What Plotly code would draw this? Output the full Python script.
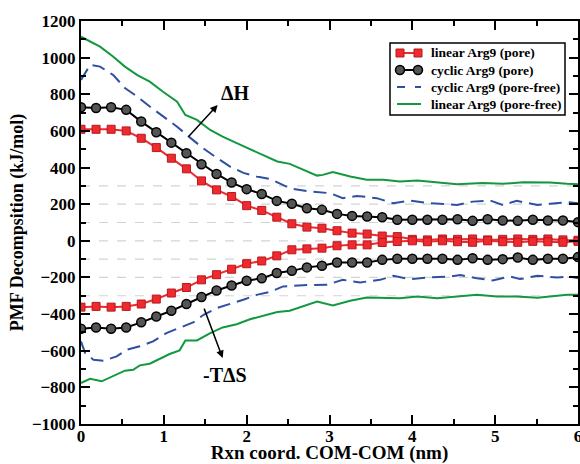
import numpy as np
import plotly.graph_objects as go

# ---- data ----
x_pore = np.linspace(0, 6, 34)

linear_pore_dH = [609, 609, 609, 600, 560, 509, 451, 393, 327, 278, 242, 192, 166, 129, 93, 75, 69, 55,
                  42, 37, 26, 23, 8, 5, 10, 8, 10, 5, 8, 10, 8, 10, 5, 3]
linear_pore_TdS = [-362, -358, -362, -358, -345, -318, -285, -255, -213, -185, -155, -125, -110, -82, -49,
                   -44, -40, -27, -22, -22, -9, -4, 0, -5, 0, -5, -8, 0, -5, -8, -3, -5, -8, -3]
cyclic_pore_dH = [729, 725, 729, 715, 651, 593, 536, 478, 418, 365, 318, 282, 256, 218, 202, 178, 169, 147,
                  136, 133, 129, 115, 115, 115, 115, 118, 109, 118, 111, 109, 115, 111, 111, 102]
cyclic_pore_TdS = [-480, -473, -480, -473, -445, -413, -382, -345, -307, -271, -244, -218, -205, -176, -164,
                   -145, -136, -118, -118, -118, -104, -98, -98, -98, -98, -104, -95, -104, -100, -91, -104,
                   -98, -98, -89]

cyc_free_dH_x = [0, 0.11, 0.23, 0.39, 0.53, 0.68, 0.83, 0.99, 1.16, 1.32, 1.47, 1.64, 1.80, 1.96, 2.12, 2.28,
                 2.52, 2.76, 3.01, 3.16, 3.33, 3.57, 3.77, 3.97, 4.21, 4.54, 4.73, 4.94, 5.09, 5.26, 5.51,
                 5.66, 5.87, 6.0]
cyc_free_dH = [878, 960, 951, 905, 834, 787, 733, 678, 623, 562, 507, 453, 405, 371, 351, 338, 287, 269, 260,
               233, 245, 233, 205, 220, 205, 196, 214, 220, 196, 218, 196, 202, 211, 205]
cyc_free_TdS_x = [0, 0.05, 0.15, 0.27, 0.43, 0.55, 0.71, 0.87, 1.03, 1.19, 1.36, 1.48, 1.64, 1.80, 1.96, 2.12,
                  2.28, 2.44, 2.68, 2.97, 3.16, 3.37, 3.61, 3.77, 3.97, 4.21, 4.46, 4.58, 4.78, 4.97, 5.18,
                  5.30, 5.51, 5.75, 5.90, 6.0]
cyc_free_TdS = [-549, -613, -649, -655, -631, -595, -576, -549, -504, -476, -444, -404, -367, -344, -322, -295,
                -279, -249, -242, -240, -213, -227, -213, -191, -209, -200, -195, -187, -204, -216, -195,
                -209, -191, -200, -195, -204]

lin_free_dH_x = [0, 0.11, 0.23, 0.39, 0.53, 0.68, 0.83, 0.99, 1.16, 1.26, 1.40, 1.56, 1.71, 1.88, 2.04, 2.20,
                 2.37, 2.52, 2.68, 2.85, 2.92, 3.04, 3.25, 3.45, 3.65, 3.85, 4.06, 4.30, 4.54, 4.85, 5.09,
                 5.34, 5.66, 5.87, 6.0]
lin_free_dH = [1114, 1087, 1060, 1005, 951, 905, 869, 814, 760, 687, 660, 605, 569, 533, 500, 469, 433, 420,
               387, 356, 360, 375, 351, 333, 333, 324, 329, 318, 309, 315, 311, 320, 318, 311, 309]
lin_free_TdS_x = [0, 0.11, 0.25, 0.39, 0.53, 0.63, 0.71, 0.83, 0.95, 1.07, 1.19, 1.26, 1.40, 1.56, 1.71, 1.88,
                  2.04, 2.20, 2.37, 2.52, 2.68, 2.85, 3.04, 3.25, 3.45, 3.65, 3.85, 4.06, 4.30, 4.54, 4.78,
                  5.02, 5.26, 5.51, 5.66, 5.87, 6.0]
lin_free_TdS = [-776, -753, -767, -740, -709, -704, -680, -671, -645, -618, -598, -544, -544, -504, -473, -455,
                -428, -411, -389, -382, -358, -331, -353, -327, -309, -309, -313, -304, -313, -304, -295,
                -304, -304, -311, -304, -295, -295]

series_names = ["linear Arg9 (pore)", "cyclic Arg9 (pore)", "cyclic Arg9 (pore-free)", "linear Arg9 (pore-free)"]

grid_levels = [-300, -200, -100, 0, 100, 200, 300]

RED = "#ee2a2f"
BLUE = "#2e4fa3"
GREEN = "#13983f"
BLUE_DASH = "13px,7px"

red_marker = dict(symbol="square", size=8, color=RED, line=dict(color="#b51a1f", width=1))
black_marker = dict(symbol="circle", size=9, color="#555555", line=dict(color="black", width=1.5))

fig = go.Figure()

# pore-free lines
fig.add_trace(go.Scatter(x=lin_free_dH_x, y=lin_free_dH, mode="lines", line=dict(color=GREEN, width=2),
                         name=series_names[3], showlegend=False))
fig.add_trace(go.Scatter(x=lin_free_TdS_x, y=lin_free_TdS, mode="lines", line=dict(color=GREEN, width=2),
                         name=series_names[3], showlegend=False))
fig.add_trace(go.Scatter(x=cyc_free_dH_x, y=cyc_free_dH, mode="lines",
                         line=dict(color=BLUE, width=2, dash=BLUE_DASH), name=series_names[2], showlegend=False))
fig.add_trace(go.Scatter(x=cyc_free_TdS_x, y=cyc_free_TdS, mode="lines",
                         line=dict(color=BLUE, width=2, dash=BLUE_DASH), name=series_names[2], showlegend=False))

# pore lines
fig.add_trace(go.Scatter(x=x_pore, y=cyclic_pore_dH, mode="lines+markers", line=dict(color="black", width=2),
                         marker=black_marker, name=series_names[1], showlegend=False))
fig.add_trace(go.Scatter(x=x_pore, y=cyclic_pore_TdS, mode="lines+markers", line=dict(color="black", width=2),
                         marker=black_marker, name=series_names[1], showlegend=False))
fig.add_trace(go.Scatter(x=x_pore, y=linear_pore_dH, mode="lines+markers", line=dict(color=RED, width=2),
                         marker=red_marker, name=series_names[0], showlegend=False))
fig.add_trace(go.Scatter(x=x_pore, y=linear_pore_TdS, mode="lines+markers", line=dict(color=RED, width=2),
                         marker=red_marker, name=series_names[0], showlegend=False))

for g in grid_levels:
    fig.add_shape(type="line", xref="x", yref="y", x0=0, x1=6, y0=g, y1=g, layer="below",
                  line=dict(color="#d3d3d3", width=1.2, dash="dash"))

# arrows and labels
fig.add_annotation(x=1.65, y=742, ax=1.28, ay=560, xref="x", yref="y", axref="x", ayref="y",
                   text="", showarrow=True, arrowhead=2, arrowsize=1, arrowwidth=1.5, arrowcolor="black")
fig.add_annotation(x=1.71, y=-640, ax=1.48, ay=-362, xref="x", yref="y", axref="x", ayref="y",
                   text="", showarrow=True, arrowhead=2, arrowsize=1, arrowwidth=1.5, arrowcolor="black")
fig.add_annotation(x=1.86, y=806, text="ΔH", showarrow=False, font=dict(size=20, color="black"))
fig.add_annotation(x=1.74, y=-731, text="-TΔS", showarrow=False, font=dict(size=20, color="black"))

# ---- hand-drawn legend (paper coordinates) ----
PL, PW, PT, PH = 81, 497, 21, 403


def px(xp):
    return (xp - PL) / PW


def py(yp):
    return 1 - (yp - PT) / PH


fig.add_shape(type="rect", xref="paper", yref="paper", x0=px(390), x1=px(565), y0=py(115), y1=py(43),
              line=dict(color="black", width=1.5), fillcolor="white", layer="above")
rows_y = [53, 70, 87, 104]
sx0, sx1 = 397, 421
legend_styles = [
    dict(color=RED, dash="solid"),
    dict(color="black", dash="solid"),
    dict(color=BLUE, dash="8px,10px"),
    dict(color=GREEN, dash="solid"),
]
for i, (name, st) in enumerate(zip(series_names, legend_styles)):
    yy = py(rows_y[i])
    fig.add_shape(type="line", xref="paper", yref="paper", x0=px(sx0), x1=px(sx1), y0=yy, y1=yy,
                  line=dict(color=st["color"], width=2, dash=st["dash"]), layer="above")
    fig.add_annotation(xref="paper", yref="paper", x=px(429), y=yy, xanchor="left", yanchor="middle",
                       text=name, showarrow=False, font=dict(size=13.5, color="black"))
for xe in (sx0 + 3, sx1 - 3):
    fig.add_shape(type="rect", xref="paper", yref="paper", xsizemode="pixel", ysizemode="pixel",
                  xanchor=px(xe), yanchor=py(rows_y[0]), x0=-4, x1=4, y0=-4, y1=4,
                  fillcolor=RED, line=dict(color="#b51a1f", width=1), layer="above")
    fig.add_shape(type="circle", xref="paper", yref="paper", xsizemode="pixel", ysizemode="pixel",
                  xanchor=px(xe), yanchor=py(rows_y[1]), x0=-4.5, x1=4.5, y0=-4.5, y1=4.5,
                  fillcolor="#555555", line=dict(color="black", width=1.5), layer="above")

axis_common = dict(showline=True, linecolor="black", linewidth=2, mirror="ticks", ticks="inside",
                   tickcolor="black", tickwidth=1.5, ticklen=9, showgrid=False, zeroline=False,
                   automargin=False, ticklabeloverflow="allow")

fig.update_layout(
    width=580, height=464,
    margin=dict(l=81, r=2, t=21, b=40),
    paper_bgcolor="white", plot_bgcolor="white",
    font=dict(family="Liberation Serif", size=17, color="black", weight="bold"),
    xaxis=dict(range=[0, 6], dtick=1, tick0=0, ticklabelstandoff=-4,
               title=dict(text="Rxn coord. COM-COM (nm)", font=dict(size=19), standoff=11),
               minor=dict(ticks="inside", dtick=0.5, ticklen=5, tickcolor="black", tickwidth=1.5),
               **axis_common),
    yaxis=dict(range=[-1000, 1200], dtick=200, tick0=0,
               title=dict(text="PMF Decompsition (kJ/mol)", font=dict(size=18), standoff=4),
               minor=dict(ticks="inside", dtick=100, ticklen=5, tickcolor="black", tickwidth=1.5),
               **axis_common),
    showlegend=False,
)

fig.write_html("out.html", config={"displayModeBar": False},
               post_script="document.body.style.margin='0';document.body.style.padding='0';")
